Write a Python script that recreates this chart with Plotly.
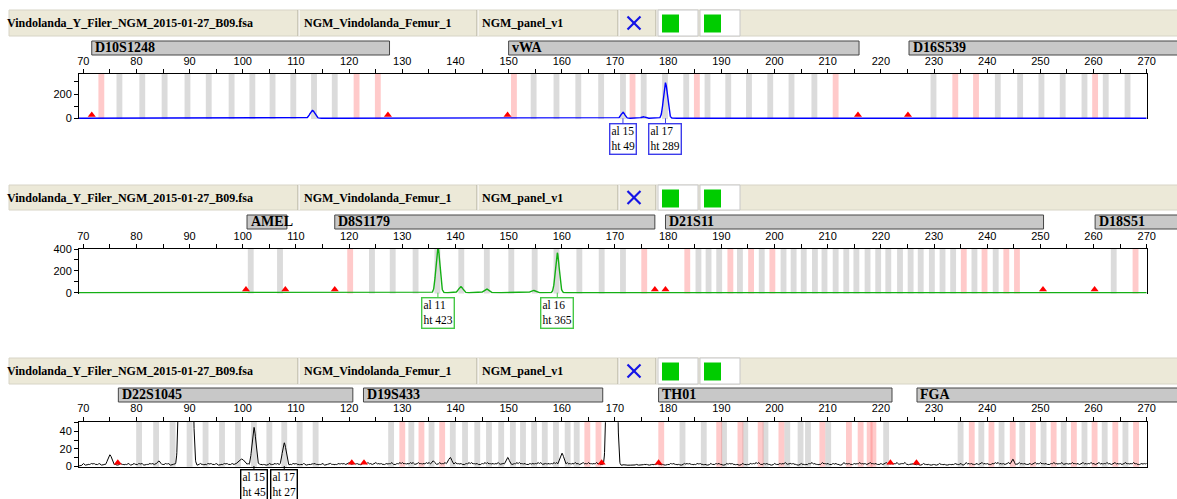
import numpy as np
import plotly.graph_objects as go

W, H = 1177, 499

# ---------------- data ----------------
file_label = "Vindolanda_Y_Filer_NGM_2015-01-27_B09.fsa"
sample_label = "NGM_Vindolanda_Femur_1"
panel_label = "NGM_panel_v1"

# panel 1 (blue dye)
p1_loci = ["D10S1248", "vWA", "D16S539"]
p1_loci_start = [71.6, 150.0, 225.3]
p1_loci_end = [127.6, 215.9, 300.0]
p1_gray_bins = [76.8, 81.1, 85.3, 89.6, 93.6, 97.9, 101.8, 105.6, 109.5, 113.4, 117.3,
                154.7, 159.0, 163.1, 167.4, 171.5, 175.4, 179.4, 183.4, 187.4, 191.3,
                195.2, 199.2, 203.2, 207.5, 229.9, 242.0, 246.2, 250.2, 254.2, 258.3,
                262.3, 266.4]
p1_pink_bins = [73.4, 121.4, 125.4, 151.0, 173.3, 185.4, 211.5, 234.0, 237.9, 260.3]
p1_markers = [71.6, 127.3, 149.8, 215.7, 225.1]
p1_peak_bp = [113.1, 171.5, 175.3, 179.5]
p1_peak_ht = [65, 49, 14, 289]
p1_peak_sd = [0.45, 0.35, 0.35, 0.38]
p1_allele_bp = [171.5, 179.5]
p1_allele = ["15", "17"]
p1_allele_ht = [49, 289]

# panel 2 (green dye)
p2_loci = ["AMEL", "D8S1179", "D21S11", "D18S51"]
p2_loci_start = [100.8, 117.3, 179.5, 260.3]
p2_loci_end = [108.3, 177.5, 250.6, 300.0]
p2_gray_bins = [101.5, 107.0, 124.3, 128.2, 132.5, 136.6, 141.1, 145.9, 150.5, 154.9,
                159.0, 163.3, 167.5, 171.5, 185.7, 187.6, 189.6, 193.5, 197.6, 201.7,
                203.6, 205.5, 207.6, 209.4, 211.5, 213.5, 215.4, 217.5, 219.5, 221.4,
                223.6, 225.6, 227.5, 229.6, 231.6, 233.6, 237.6, 241.6, 263.8]
p2_pink_bins = [120.2, 175.5, 183.6, 191.7, 195.6, 199.6, 235.6, 239.5, 243.6, 245.6, 267.9]
p2_markers = [100.6, 108.0, 117.3, 177.5, 179.5, 250.5, 260.2]
p2_peak_bp = [136.7, 141.0, 145.8, 154.6, 159.15]
p2_peak_ht = [423, 55, 35, 22, 365]
p2_peak_sd = [0.36, 0.4, 0.4, 0.4, 0.36]
p2_allele_bp = [136.7, 159.15]
p2_allele = ["11", "16"]
p2_allele_ht = [423, 365]

# panel 3 (black dye)
p3_loci = ["D22S1045", "D19S433", "TH01", "FGA"]
p3_loci_start = [76.6, 122.7, 178.2, 226.8]
p3_loci_end = [120.7, 167.7, 222.1, 300.0]
p3_gray_bins = [80.5, 83.7, 86.8, 90.0, 93.0, 96.1, 99.1, 102.1, 105.0, 107.8, 110.7,
                113.7, 127.9, 131.7, 135.5, 139.5, 141.8, 144.1, 146.3, 148.6, 150.8,
                152.7, 154.8, 156.8, 158.9, 161.1, 162.8, 182.7, 186.7, 190.5, 194.5,
                198.3, 202.4, 204.9, 206.3, 210.1, 221.0, 235.0, 238.9, 242.7, 246.6,
                250.6, 254.4, 258.3, 262.1, 266.0]
p3_pink_bins = [130.0, 133.6, 137.5, 164.8, 166.9, 178.7, 189.6, 193.6, 197.4, 201.3,
                209.0, 214.0, 216.2, 217.9, 218.6, 237.1, 240.8, 244.8, 248.6, 252.5,
                256.3, 260.2, 264.1, 268.0]
p3_markers = [76.5, 120.5, 122.8, 167.5, 178.2, 221.8, 226.7]
p3_peak_bp = [75.0, 84.2, 89.3, 99.8, 102.1, 107.8, 122.8, 135.8, 139.0, 149.8, 160.0, 169.4, 244.8]
p3_peak_ht = [13, 6, 5000, 8, 45, 27, 5, 6, 10, 10, 15, 3000, 8]
p3_peak_sd = [0.4, 0.35, 0.5, 0.6, 0.36, 0.36, 0.3, 0.35, 0.35, 0.35, 0.4, 0.42, 0.3]
p3_allele_bp = [102.1, 107.8]
p3_allele = ["15", "17"]
p3_allele_ht = [45, 27]
# baseline noise level of the black trace, two values per bp from 70 to 270
p3_noise = [3, 1, 2, 3, 3, 2, 3, 1, 2, 4, 3, 2, 2, 1, 3, 2, 2, 3, 1, 3,
            2, 3, 3, 1, 2, 3, 3, 2, 4, 2, 2, 3, 3, 1, 2, 3, 3, 2, 3, 1,
            2, 3, 2, 1, 3, 2, 2, 3, 3, 2, 3, 1, 2, 3, 3, 2, 3, 2, 4, 2,
            3, 1, 3, 2, 2, 3, 3, 2, 2, 1, 3, 2, 3, 3, 2, 1, 3, 2, 2, 3,
            3, 2, 2, 3, 1, 2, 3, 3, 2, 2, 3, 1, 2, 3, 2, 2, 3, 3, 3, 2,
            4, 2, 3, 3, 2, 2, 3, 4, 3, 2, 4, 3, 3, 2, 3, 3, 4, 2, 3, 4,
            4, 3, 3, 4, 4, 2, 4, 3, 3, 4, 4, 3, 3, 2, 4, 3, 4, 4, 3, 3,
            4, 3, 3, 2, 3, 4, 4, 3, 3, 2, 3, 4, 4, 3, 3, 3, 4, 2, 3, 4,
            3, 2, 3, 4, 4, 3, 3, 2, 3, 3, 3, 4, 4, 2, 3, 3, 3, 4, 4, 3,
            3, 2, 4, 3, 3, 4, 3, 2, 4, 3, 4, 3, 3, 4, 3, 2, 3, 3, 3, 2,
            1, 1, 1, 2, 2, 1, 1, 1, 2, 1, 1, 2, 2, 1, 2, 2, 3, 2, 2, 1,
            2, 3, 3, 2, 2, 1, 3, 3, 3, 2, 2, 3, 3, 2, 2, 1, 3, 2, 3, 3,
            2, 1, 3, 3, 3, 2, 2, 1, 3, 2, 2, 3, 3, 4, 4, 2, 3, 3, 2, 1,
            3, 2, 3, 3, 4, 2, 3, 3, 2, 1, 3, 2, 2, 3, 4, 3, 2, 2, 4, 3,
            3, 2, 3, 3, 2, 1, 4, 3, 3, 2, 3, 3, 4, 3, 3, 2, 4, 3, 3, 2,
            3, 2, 4, 3, 3, 3, 4, 2, 3, 4, 2, 2, 3, 2, 2, 1, 3, 2, 2, 1,
            2, 1, 3, 2, 2, 1, 2, 2, 3, 2, 3, 1, 4, 3, 3, 2, 3, 2, 4, 3,
            3, 2, 3, 4, 4, 3, 3, 2, 4, 3, 3, 2, 4, 3, 3, 2, 3, 2, 4, 3,
            4, 3, 3, 2, 3, 4, 3, 3, 4, 2, 3, 3, 4, 3, 3, 2, 4, 3, 3, 4,
            3, 2, 4, 3, 3, 4, 3, 2, 4, 3, 3, 2, 4, 3, 3, 4, 3, 2, 3, 3,
            3]

noise_start = 70

# ---------------- layout constants (pixels) ----------------
X_LEFT, X_RIGHT = 79, 1146.7
X_RANGE = [69.2, 270.0]

panels = [
    dict(loci=p1_loci, ls=p1_loci_start, le=p1_loci_end, gray=p1_gray_bins, pink=p1_pink_bins,
         markers=p1_markers, pbp=p1_peak_bp, pht=p1_peak_ht, psd=p1_peak_sd,
         abp=p1_allele_bp, al=p1_allele, aht=p1_allele_ht, noise=None,
         color="rgb(0,0,255)", box="rgb(60,60,235)", lw=1.4,
         htop=10, hbot=36, ltop=41, lbot=55, ptop=74, pbot=118.3, ymax=365, dt=200, mdt=100, ay=21),
    dict(loci=p2_loci, ls=p2_loci_start, le=p2_loci_end, gray=p2_gray_bins, pink=p2_pink_bins,
         markers=p2_markers, pbp=p2_peak_bp, pht=p2_peak_ht, psd=p2_peak_sd,
         abp=p2_allele_bp, al=p2_allele, aht=p2_allele_ht, noise=None,
         color="rgb(20,175,20)", box="rgb(70,200,70)", lw=1.4,
         htop=185, hbot=210, ltop=215, lbot=229, ptop=249, pbot=292.7, ymax=400, dt=200, mdt=100, ay=20),
    dict(loci=p3_loci, ls=p3_loci_start, le=p3_loci_end, gray=p3_gray_bins, pink=p3_pink_bins,
         markers=p3_markers, pbp=p3_peak_bp, pht=p3_peak_ht, psd=p3_peak_sd,
         abp=p3_allele_bp, al=p3_allele, aht=p3_allele_ht, noise=p3_noise,
         color="black", box="black", lw=1.0,
         htop=358, hbot=384, ltop=388, lbot=402, ptop=421.7, pbot=466, ymax=51.5, dt=20, mdt=10, ay=19),
]


def px(x):
    return x / W


def py(y):
    return 1 - y / H


def bp_to_px(bp):
    return X_LEFT + (bp - X_RANGE[0]) / (X_RANGE[1] - X_RANGE[0]) * (X_RIGHT - X_LEFT)


xs = np.arange(X_RANGE[0], X_RANGE[1] + 0.001, 0.04)

fig = go.Figure()
shapes = []
annotations = []
serif = "Liberation Serif"
sans = "Liberation Sans"

for i, p in enumerate(panels):
    n = "" if i == 0 else str(i + 1)
    xa, ya = "x" + n, "y" + n

    # signal trace
    y = np.zeros_like(xs)
    for c, h, s in zip(p["pbp"], p["pht"], p["psd"]):
        y = np.maximum(y, h * np.exp(-0.5 * ((xs - c) / s) ** 2))
    if p["noise"] is not None:
        nz = np.zeros_like(xs)
        for k, h in enumerate(p["noise"]):
            nz += h * np.exp(-0.5 * ((xs - (noise_start + 0.5 * k)) / 0.17) ** 2)
        y = np.maximum(y, nz)
    fig.add_trace(go.Scatter(x=xs, y=y, mode="lines", xaxis=xa, yaxis=ya,
                             line=dict(color=p["color"], width=p["lw"]), hoverinfo="skip"))

    # size-standard markers
    pxu = (p["pbot"] - p["ptop"]) / p["ymax"]
    fig.add_trace(go.Scatter(x=p["markers"], y=[3.2 / pxu] * len(p["markers"]), mode="markers",
                             xaxis=xa, yaxis=ya, cliponaxis=False,
                             marker=dict(symbol="triangle-up", size=7, color="red"), hoverinfo="skip"))

    ymin = -0.8 / pxu
    fig.update_layout(**{
        "xaxis" + n: dict(domain=[px(X_LEFT), px(X_RIGHT)], range=X_RANGE, side="top", anchor=ya,
                          showline=True, linecolor="black", linewidth=1, mirror=(i == 2),
                          ticks="outside", ticklen=4, tickcolor="black", tick0=0, dtick=10,
                          minor=dict(dtick=5, ticks="outside", ticklen=4, tickcolor="black"),
                          tickfont=dict(family=sans, size=11, color="black"), automargin=False,
                          showgrid=False, zeroline=False, layer="below traces", fixedrange=True),
        "yaxis" + n: dict(domain=[py(p["pbot"] + 0.8), py(p["ptop"])], range=[ymin, p["ymax"]],
                          anchor=xa, showline=True, linecolor="black", linewidth=1, mirror=True,
                          ticks="outside", ticklen=4, tickcolor="black", tick0=0, dtick=p["dt"],
                          minor=dict(dtick=p["mdt"], ticks="outside", ticklen=4, tickcolor="black"),
                          tickfont=dict(family=sans, size=11, color="black"), automargin=False,
                          showgrid=False, zeroline=False, layer="below traces", fixedrange=True),
    })

    # bins
    for c in p["gray"]:
        shapes.append(dict(type="rect", xref=xa, yref=ya + " domain", x0=c - 0.55, x1=c + 0.55,
                           y0=0, y1=1, fillcolor="rgb(160,160,160)", opacity=0.38,
                           line=dict(width=0), layer="below"))
    for c in p["pink"]:
        shapes.append(dict(type="rect", xref=xa, yref=ya + " domain", x0=c - 0.55, x1=c + 0.55,
                           y0=0, y1=1, fillcolor="rgb(255,110,110)", opacity=0.37,
                           line=dict(width=0), layer="below"))

    # header band
    ht, hb = p["htop"], p["hbot"]
    shapes.append(dict(type="rect", xref="paper", yref="paper", x0=px(9), x1=px(W + 2),
                       y0=py(hb), y1=py(ht), fillcolor="rgb(236,233,216)",
                       line=dict(color="rgb(215,212,198)", width=1)))
    for sx in [298, 477, 618, 656]:
        shapes.append(dict(type="line", xref="paper", yref="paper", x0=px(sx), x1=px(sx),
                           y0=py(hb), y1=py(ht), line=dict(color="rgb(172,168,153)", width=1)))
        shapes.append(dict(type="line", xref="paper", yref="paper", x0=px(sx + 1), x1=px(sx + 1),
                           y0=py(hb), y1=py(ht), line=dict(color="white", width=1)))
    for cx0, cx1 in [(658, 698), (700, 740)]:
        shapes.append(dict(type="rect", xref="paper", yref="paper", x0=px(cx0), x1=px(cx1),
                           y0=py(hb), y1=py(ht), fillcolor="white",
                           line=dict(color="rgb(200,200,200)", width=1)))
        shapes.append(dict(type="rect", xref="paper", yref="paper", x0=px(cx0 + 4), x1=px(cx0 + 21),
                           y0=py(ht + 22.5), y1=py(ht + 4.5), fillcolor="rgb(0,204,0)",
                           line=dict(width=0)))
    xc, yc = 634, (ht + hb) / 2
    for dy in [-1, 1]:
        shapes.append(dict(type="line", xref="paper", yref="paper", x0=px(xc - 6.5), x1=px(xc + 6.5),
                           y0=py(yc - 6.5 * dy), y1=py(yc + 6.5 * dy),
                           line=dict(color="rgb(20,20,230)", width=2.2)))
    for tx, txt in [(5, file_label), (302, sample_label), (480, panel_label)]:
        annotations.append(dict(xref="paper", yref="paper", x=px(tx), y=py((ht + hb) / 2),
                                xanchor="left", yanchor="middle", showarrow=False,
                                text="<b>%s</b>" % txt,
                                font=dict(family=serif, size=12, color="black")))

    # locus bars
    for name, s, e in zip(p["loci"], p["ls"], p["le"]):
        x0, x1 = bp_to_px(s), bp_to_px(e)
        shapes.append(dict(type="rect", xref="paper", yref="paper", x0=px(x0), x1=px(x1),
                           y0=py(p["lbot"]), y1=py(p["ltop"]), fillcolor="rgb(200,200,200)",
                           line=dict(color="rgb(70,70,70)", width=1)))
        annotations.append(dict(xref="paper", yref="paper", x=px(x0 + 1.5),
                                y=py((p["ltop"] + p["lbot"]) / 2 - 0.5),
                                xanchor="left", yanchor="middle", showarrow=False, text="<b>%s</b>" % name,
                                font=dict(family=serif, size=14, color="black")))

    # allele call boxes
    for b, a, h in zip(p["abp"], p["al"], p["aht"]):
        annotations.append(dict(xref=xa, yref=ya, x=b, y=0, ax=0, ay=p["ay"], showarrow=True,
                                arrowhead=0, arrowwidth=1, arrowcolor=p["box"],
                                text="al %s<br>ht %s" % (a, h), align="left",
                                bordercolor=p["box"], borderwidth=1.4, borderpad=1, bgcolor="white",
                                font=dict(family=serif, size=11.5, color="black")))

fig.update_layout(width=W, height=H, margin=dict(l=0, r=0, t=0, b=0, autoexpand=False),
                  paper_bgcolor="white", plot_bgcolor="white", showlegend=False,
                  shapes=shapes, annotations=annotations)
fig.write_html("out.html", config={"displayModeBar": False},
               post_script="document.body.style.margin='0';document.body.style.padding='0';"
                           "document.body.style.overflow='hidden';")
